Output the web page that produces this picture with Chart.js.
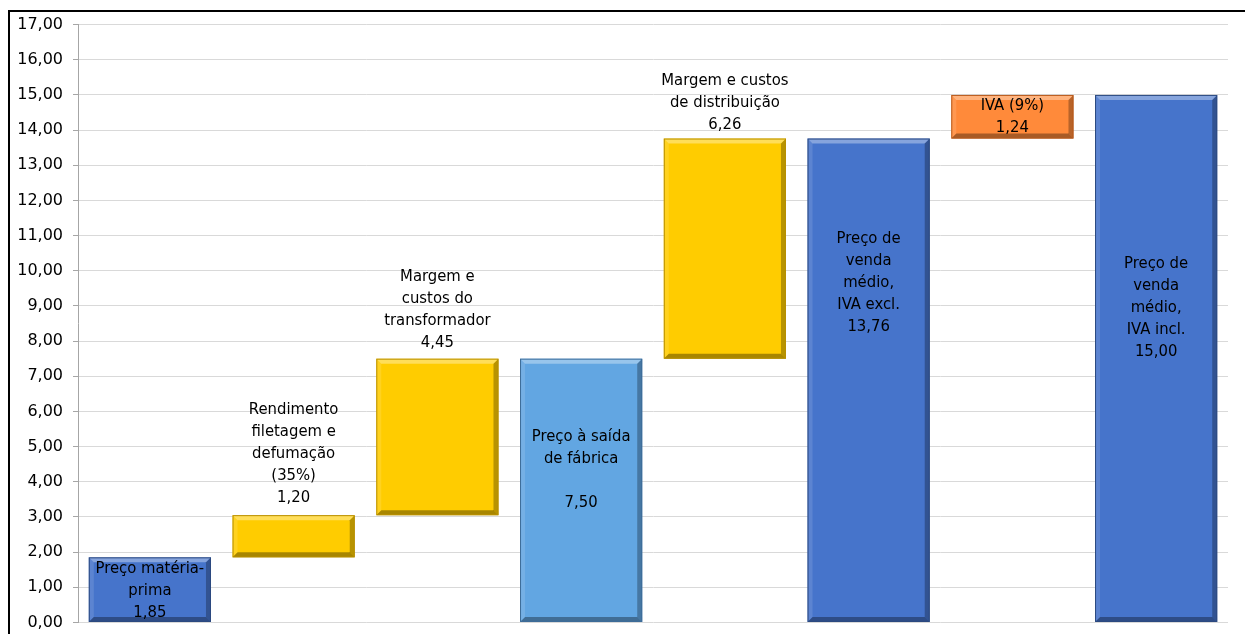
<!DOCTYPE html>
<html>
<head>
<meta charset="utf-8">
<script src="https://cdn.jsdelivr.net/npm/chart.js@4.4.1/dist/chart.umd.min.js"></script>
<style>
  html, body { margin: 0; padding: 0; background: #fff; width: 1245px; height: 634px; overflow: hidden; position: relative; }
  #frame { position: absolute; left: 8px; top: 10px; width: 1240px; height: 630px;
           border-left: 2px solid #000; border-top: 2px solid #000; }
  #chart { position: absolute; left: 10px; top: 5px; display: block; }
</style>
</head>
<body>
<div id="frame"></div>
<canvas id="chart" width="1235" height="637"></canvas>
<script>
// waterfall steps (euros)
const categories = [
  'Preço matéria-prima',
  'Rendimento filetagem e defumação (35%)',
  'Margem e custos do transformador',
  'Preço à saída de fábrica',
  'Margem e custos de distribuição',
  'Preço de venda médio, IVA excl.',
  'IVA (9%)',
  'Preço de venda médio, IVA incl.'
];
const barStart = [0, 1.85, 3.05, 0, 7.50, 0, 13.76, 0];
const barEnd   = [1.85, 3.05, 7.50, 7.50, 13.76, 13.76, 15.00, 15.00];
const yTicks   = [0, 1, 2, 3, 4, 5, 6, 7, 8, 9, 10, 11, 12, 13, 14, 15, 16, 17];

// how each category name is broken in its label
const labelLines = [
  ['Preço matéria-', 'prima'],
  ['Rendimento', 'filetagem e', 'defumação', '(35%)'],
  ['Margem e', 'custos do', 'transformador'],
  ['Preço à saída', 'de fábrica', ''],
  ['Margem e custos', 'de distribuição'],
  ['Preço de', 'venda', 'médio,', 'IVA excl.'],
  ['IVA (9%)'],
  ['Preço de', 'venda', 'médio,', 'IVA incl.']
];

const colors = ['#4674cb', '#ffcc00', '#ffcc00', '#62a6e2', '#ffcc00', '#4674cb', '#ff8a3a', '#4674cb'];
const edgeColors = ['#2c4a80', '#b88f00', '#b88f00', '#3d6c99', '#b88f00', '#2c4a80', '#b85a1c', '#2c4a80'];
// label centre, in axis units
const labelCenter = [0.91, 4.80, 8.90, 4.35, 14.78, 9.66, 14.38, 8.95];

const fmt = v => v.toFixed(2).replace('.', ',');
const labelFont = "16.5px 'DejaVu Sans Condensed', sans-serif";

const bevelPlugin = {
  id: 'bevel',
  afterDatasetsDraw(chart) {
    const ctx = chart.ctx;
    const meta = chart.getDatasetMeta(0);
    meta.data.forEach((bar, i) => {
      const p = bar.getProps(['x', 'y', 'base', 'width'], true);
      const l = p.x - p.width / 2, r = p.x + p.width / 2;
      const t = Math.min(p.y, p.base), b = Math.max(p.y, p.base);
      const s = 5;
      ctx.save();
      const quad = (pts, fill) => {
        ctx.beginPath();
        ctx.moveTo(pts[0][0], pts[0][1]);
        for (let k = 1; k < pts.length; k++) ctx.lineTo(pts[k][0], pts[k][1]);
        ctx.closePath();
        ctx.fillStyle = fill;
        ctx.fill();
      };
      quad([[l, t], [r, t], [r - s, t + s], [l + s, t + s]], 'rgba(255,255,255,0.35)');
      quad([[l, t], [l + s, t + s], [l + s, b - s], [l, b]], 'rgba(255,255,255,0.12)');
      quad([[r, t], [r, b], [r - s, b - s], [r - s, t + s]], 'rgba(0,0,0,0.28)');
      quad([[l, b], [r, b], [r - s, b - s], [l + s, b - s]], 'rgba(0,0,0,0.34)');
      ctx.strokeStyle = edgeColors[i];
      ctx.lineWidth = 1;
      ctx.strokeRect(l + 0.5, t + 0.5, p.width - 1, b - t - 1);
      ctx.restore();
    });
  },
  afterDraw(chart) {
    const ctx = chart.ctx;
    const yScale = chart.scales.y;
    const meta = chart.getDatasetMeta(0);
    ctx.save();
    ctx.font = labelFont;
    ctx.fillStyle = '#000';
    ctx.textAlign = 'center';
    ctx.textBaseline = 'middle';
    const lh = 22;
    meta.data.forEach((bar, i) => {
      const lines = labelLines[i].concat([fmt(barEnd[i] - barStart[i])]);
      const cy = yScale.getPixelForValue(labelCenter[i]);
      const y0 = cy - (lines.length - 1) * lh / 2;
      lines.forEach((txt, k) => ctx.fillText(txt, bar.x, y0 + k * lh));
    });
    ctx.restore();
  }
};

new Chart(document.getElementById('chart'), {
  type: 'bar',
  data: {
    labels: categories,
    datasets: [{
      data: barStart.map((s, i) => [s, barEnd[i]]),
      backgroundColor: colors,
      borderWidth: 0,
      barPercentage: 0.85,
      categoryPercentage: 1.0
    }]
  },
  options: {
    responsive: false,
    animation: false,
    layout: { padding: { top: 2, right: 17, bottom: 3, left: 0 } },
    plugins: { legend: { display: false }, tooltip: { enabled: false } },
    scales: {
      x: { display: false },
      y: {
        min: 0, max: 17,
        afterFit(scale) { scale.width = 68; },
        afterBuildTicks(scale) { scale.ticks = yTicks.map(v => ({ value: v })); },
        ticks: {
          callback: v => fmt(v),
          color: '#000',
          padding: 10,
          font: { family: 'DejaVu Sans', size: 16 }
        },
        grid: { color: '#d9d9d9', tickColor: '#a6a6a6', tickLength: 5 },
        border: { color: '#a6a6a6' }
      }
    }
  },
  plugins: [bevelPlugin]
});
</script>
</body>
</html>
